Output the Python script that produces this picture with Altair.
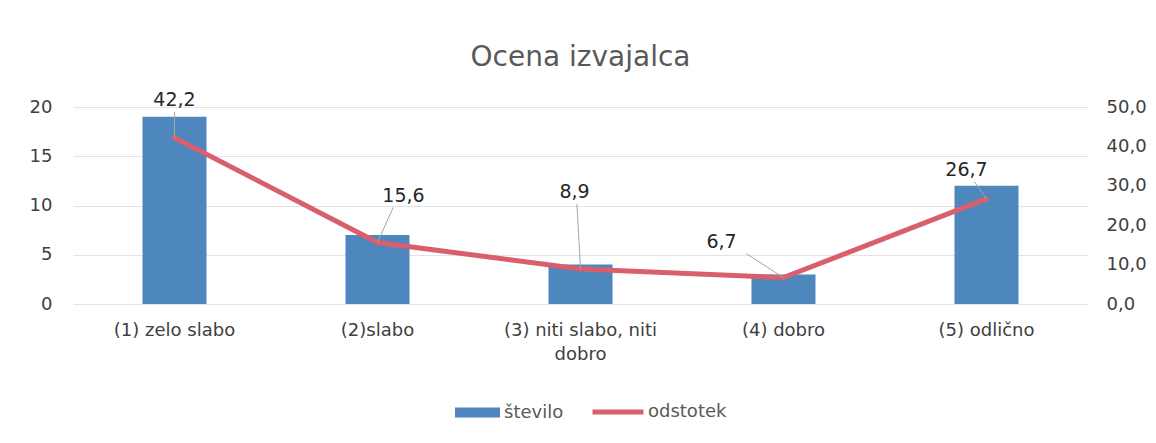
import altair as alt
import pandas as pd

categories = ["(1) zelo slabo", "(2)slabo", "(3) niti slabo, niti\ndobro", "(4) dobro", "(5) odlično"]
stevilo = [19, 7, 4, 3, 12]
odstotek = [42.2, 15.6, 8.9, 6.7, 26.7]
# label offsets (px) of data labels relative to their points
label_dx = [0, 26, -6, -62, -20]
label_dy = [-38, -47, -77, -36, -29]

df = pd.DataFrame({"kat": categories, "stevilo": stevilo, "odstotek": odstotek,
                   "lab": [f"{v:.1f}".replace(".", ",") for v in odstotek]})

FONT = "DejaVu Sans"
BLUE = "#4E86BE"
RED = "#D95F6D"
TXT = "#404040"

x = alt.X("kat:N", sort=categories, title=None,
          scale=alt.Scale(paddingInner=0.685, paddingOuter=0.3425, align=0.5),
          axis=alt.Axis(labelAngle=0, labelExpr="split(datum.label, '\\n')", labelFontSize=18,
                        labelColor=TXT, labelPadding=17, domain=False, ticks=False,
                        labelLineHeight=24, labelFont=FONT))

bars = alt.Chart(df).mark_bar(color=BLUE, size=64).encode(
    x=x,
    y=alt.Y("stevilo:Q", title=None, scale=alt.Scale(domain=[0, 20]),
            axis=alt.Axis(values=[0, 5, 10, 15, 20], domain=False, ticks=False, labelPadding=21,
                          labelFontSize=18, labelColor=TXT, gridColor="#E3E3E3",
                          labelFont=FONT)),
    color=alt.Color("s:N", scale=alt.Scale(domain=["število"], range=[BLUE]),
                    legend=alt.Legend(title=None, orient="none", legendX=382, legendY=283,
                                      symbolType="M-1,-0.22L1,-0.22L1,0.22L-1,0.22Z",
                                      symbolSize=2025, labelFontSize=18, labelColor="#595959",
                                      labelFont=FONT, padding=0, labelOffset=4,
                                      symbolStrokeWidth=0)),
).transform_calculate(s="'število'")

yscale = alt.Scale(domain=[0, 50])
raxis = alt.Axis(orient="right", values=[0, 10, 20, 30, 40, 50],
                 labelExpr="replace(format(datum.value, '.1f'), '.', ',')",
                 domain=False, ticks=False, grid=False, labelPadding=18,
                 labelFontSize=18, labelColor=TXT, labelFont=FONT)

line = alt.Chart(df).mark_line(strokeWidth=5, strokeCap="round").encode(
    x=alt.X("kat:N", sort=categories),
    y=alt.Y("odstotek:Q", title=None, scale=yscale, axis=raxis),
    stroke=alt.Stroke("s:N", scale=alt.Scale(domain=["odstotek"], range=[RED]),
                      legend=alt.Legend(title=None, orient="none", legendX=517, legendY=277,
                                        symbolType="stroke", symbolStrokeWidth=5,
                                        symbolSize=2601, labelFontSize=18, labelColor="#595959",
                                        labelFont=FONT, padding=0, labelOffset=2)),
).transform_calculate(s="'odstotek'")

labels = []
leaders = []
for i, c in enumerate(categories):
    sub = alt.Chart(df).transform_filter(alt.datum.kat == c)
    labels.append(sub.mark_text(fontSize=19, color="#262626", font=FONT, dx=label_dx[i],
                                dy=label_dy[i]).encode(
        x=alt.X("kat:N", sort=categories),
        y=alt.Y("odstotek:Q", title=None, scale=yscale, axis=raxis),
        text="lab:N"))
    leaders.append(sub.mark_rule(color="#A6A6A6", strokeWidth=1,
                                 x2Offset=label_dx[i] * 0.6, y2Offset=label_dy[i] + 12).encode(
        x=alt.X("kat:N", sort=categories), x2="kat:N",
        y=alt.Y("odstotek:Q", title=None, scale=yscale, axis=raxis), y2="odstotek:Q"))

right = alt.layer(line, *leaders, *labels)

chart = alt.layer(bars, right).resolve_scale(y="independent", color="independent").properties(
    width=1015, height=197,
    title=alt.TitleParams("Ocena izvajalca", fontSize=28, color="#595959", font=FONT,
                          fontWeight="normal", offset=19),
    padding={"left": 21, "top": 35, "right": 0, "bottom": 6},
).configure_view(stroke=None)

chart.save("out.html", embed_options={"renderer": "svg", "actions": False})
